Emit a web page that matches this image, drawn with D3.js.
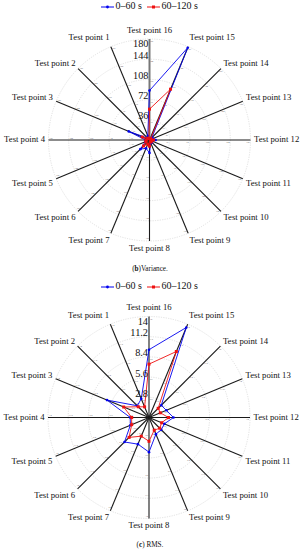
<!DOCTYPE html>
<html>
<head>
<meta charset="utf-8">
<script src="https://cdn.jsdelivr.net/npm/d3@7"></script>
<style>
  body { margin: 0; background: #fff; }
  svg { display: block; font-family: "Liberation Serif", "DejaVu Serif", serif; }
</style>
</head>
<body>
<div id="app"></div>
<script>
// test points, clockwise placement with point 16 at the top
const points = [1, 2, 3, 4, 5, 6, 7, 8, 9, 10, 11, 12, 13, 14, 15, 16]
const pointLabels = ["Test point 1", "Test point 2", "Test point 3", "Test point 4",
  "Test point 5", "Test point 6", "Test point 7", "Test point 8", "Test point 9",
  "Test point 10", "Test point 11", "Test point 12", "Test point 13", "Test point 14",
  "Test point 15", "Test point 16"]
const seriesNames = ["0–60 s", "60–120 s"]

// (b) variance
const varTicks = [36, 72, 108, 144, 180]
const varFirst = [8, 5, 40, 7, 8, 23, 16, 23, 6, 6, 5, 11, 7, 6, 178, 88]
const varSecond = [2.6, 4.4, 14, 6, 7, 15, 8, 11, 4, 4, 4, 7, 3, 3, 98, 55]

// (c) RMS
const rmsTicks = [2.8, 5.6, 8.4, 11.2, 14]
const rmsFirst = [2.8, 2.3, 6.3, 2.6, 2.8, 4.8, 4.0, 4.8, 2.5, 2.4, 2.3, 3.4, 2.6, 2.4, 13.5, 9.4]
const rmsSecond = [1.6, 2.1, 3.8, 2.4, 2.6, 3.9, 2.8, 3.3, 1.9, 2.1, 1.9, 2.7, 1.7, 1.8, 9.9, 7.4]

const W = 305, H = 550
const R = 101
const blue = "#0000ee", red = "#ee1111"

const svg = d3.select("#app").append("svg")
  .attr("width", W)
  .attr("height", H)

// angle clockwise from 12 o'clock
const fa = d3.scaleLinear().domain([0, 16]).range([2 * Math.PI, 0])

function px(a, r) { return r * Math.sin(a) }
function py(a, r) { return -r * Math.cos(a) }

function radar(cx, cy, ticks, s1, s2, opts) {
  const fr = d3.scaleLinear().domain([0, ticks[ticks.length - 1]]).range([0, R])
  const g = svg.append("g").attr("transform", `translate(${cx},${cy})`)

  // grid rings
  g.append("g").selectAll("circle")
    .data(ticks)
    .join("circle")
      .attr("r", d => fr(d))
      .attr("fill", "none")
      .attr("stroke", "#d4d4d4")
      .attr("stroke-width", 0.7)
      .attr("stroke-dasharray", "1.2,1.2")

  // spokes
  g.append("g").selectAll("line")
    .data(points)
    .join("line")
      .attr("x1", 0).attr("y1", 0)
      .attr("x2", d => px(fa(d), R))
      .attr("y2", d => py(fa(d), R))
      .attr("stroke", d => d === 16 ? opts.topColor : "#1a1a1a")
      .attr("stroke-width", d => d === 16 ? opts.topWidth : 1.1)

  // tiny tick labels along every spoke, just inside each ring
  const tiny = []
  points.forEach(p => ticks.forEach(t => tiny.push([p, t])))
  g.append("g").selectAll("text")
    .data(tiny)
    .join("text")
      .attr("x", d => { const a = fa(d[0]); return px(a, fr(d[1]) - 2.5) + 2 * Math.cos(a) })
      .attr("y", d => { const a = fa(d[0]); return py(a, fr(d[1]) - 2.5) + 2 * Math.sin(a) })
      .attr("text-anchor", "middle")
      .attr("dominant-baseline", "middle")
      .attr("font-size", 2.4)
      .attr("fill", "#666")
      .text(d => d[1])

  // series
  const line = d3.lineRadial()
    .angle((d, i) => fa(points[i]))
    .radius(d => fr(d))
    .curve(d3.curveLinearClosed)

  const series = [{ v: s1, c: blue, m: "circle" }, { v: s2, c: red, m: "square" }]
  series.forEach(s => {
    g.append("path")
      .attr("d", line(s.v))
      .attr("fill", "none")
      .attr("stroke", s.c)
      .attr("stroke-width", 0.9)
    const mg = g.append("g")
    if (s.m === "circle") {
      mg.selectAll("circle")
        .data(s.v)
        .join("circle")
          .attr("cx", (d, i) => px(fa(points[i]), fr(d)))
          .attr("cy", (d, i) => py(fa(points[i]), fr(d)))
          .attr("r", 1.3)
          .attr("fill", s.c)
    } else {
      mg.selectAll("rect")
        .data(s.v)
        .join("rect")
          .attr("x", (d, i) => px(fa(points[i]), fr(d)) - 1.5)
          .attr("y", (d, i) => py(fa(points[i]), fr(d)) - 1.5)
          .attr("width", 3).attr("height", 3)
          .attr("fill", s.c)
    }
  })

  // radial labels on the top spoke
  g.append("g").selectAll("text")
    .data(ticks)
    .join("text")
      .attr("x", -1)
      .attr("y", (d, i) => i === ticks.length - 1 ? -fr(d) + 8 : -fr(d) - 0.5)
      .attr("text-anchor", "end")
      .attr("font-size", 10.3)
      .attr("fill", "#111")
      .text(d => d)

  // test point labels
  g.append("g").selectAll("text")
    .data(points)
    .join("text")
      .attr("x", d => px(fa(d), R + 3.5))
      .attr("y", d => py(fa(d), R + 3.5) - (Math.cos(fa(d)) > 0.9 ? 3 : 0))
      .attr("text-anchor", d => {
        const s = Math.sin(fa(d))
        return s > 0.1 ? "start" : s < -0.1 ? "end" : "middle"
      })
      .attr("dominant-baseline", d => {
        const c = Math.cos(fa(d))
        return c > 0.1 ? "auto" : c < -0.1 ? "hanging" : "middle"
      })
      .attr("font-size", 8.7)
      .attr("fill", "#111")
      .text(d => pointLabels[d - 1])

  // legend
  const lg = svg.append("g").attr("transform", `translate(0,${opts.legendY})`)
  const items = [
    { x: 101, c: blue, m: "circle", t: seriesNames[0] },
    { x: 147, c: red, m: "square", t: seriesNames[1] }
  ]
  items.forEach(it => {
    lg.append("line")
      .attr("x1", it.x).attr("x2", it.x + 13)
      .attr("y1", 0).attr("y2", 0)
      .attr("stroke", it.c).attr("stroke-width", 1)
    if (it.m === "circle") {
      lg.append("circle").attr("cx", it.x + 6.5).attr("cy", 0).attr("r", 1.4).attr("fill", it.c)
    } else {
      lg.append("rect").attr("x", it.x + 5).attr("y", -1.5).attr("width", 3).attr("height", 3).attr("fill", it.c)
    }
    lg.append("text")
      .attr("x", it.x + 14.5).attr("y", 0)
      .attr("dominant-baseline", "middle")
      .attr("font-size", 10)
      .attr("fill", "#111")
      .text(it.t)
  })

  // caption
  const cap = svg.append("text")
    .attr("x", 150).attr("y", opts.captionY)
    .attr("text-anchor", "middle")
    .attr("font-size", 7.2)
    .attr("fill", "#111")
  cap.append("tspan").text("(")
  cap.append("tspan").attr("font-weight", "bold").text(opts.letter)
  cap.append("tspan").text(")" + opts.caption)
}

radar(149.5, 140, varTicks, varFirst, varSecond, {
  topColor: "#777", topWidth: 2, legendY: 7, captionY: 271, letter: "b", caption: "Variance."
})
radar(149, 417.5, rmsTicks, rmsFirst, rmsSecond, {
  topColor: "#1a1a1a", topWidth: 1.1, legendY: 287, captionY: 547, letter: "c", caption: " RMS."
})
</script>
</body>
</html>
